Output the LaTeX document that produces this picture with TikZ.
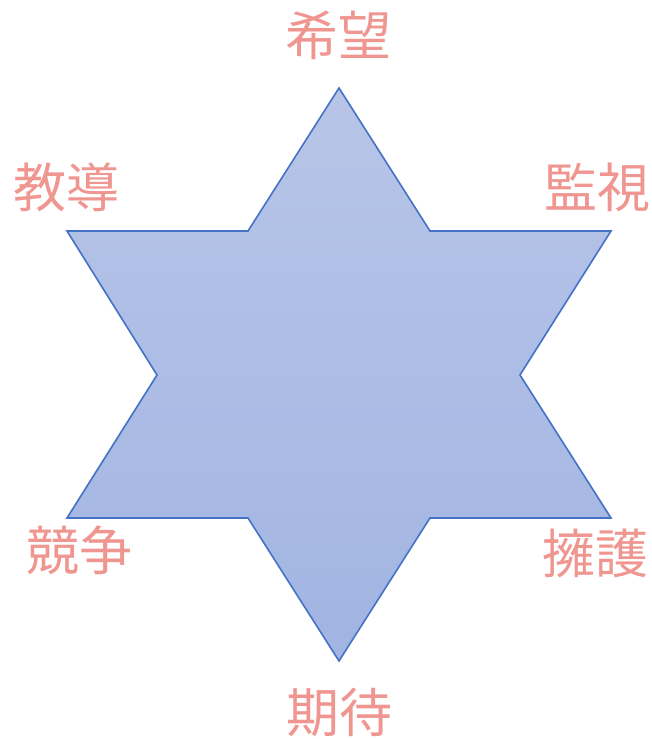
\documentclass[tikz,border=0pt]{standalone}
\usepackage{fontspec}
\newfontfamily\jpfont{Noto Sans CJK JP}
\usepackage{tikz}
\usetikzlibrary{positioning, calc}

\definecolor{starline}{RGB}{68,114,196}
\definecolor{startop}{RGB}{184,197,232}
\definecolor{starbottom}{RGB}{161,180,226}
\definecolor{wordcolor}{RGB}{240,150,145}

\tikzset{
    word/.style={text=wordcolor, inner sep=0pt, font=\jpfont\fontsize{53}{60}\selectfont},
    star/.style={draw=starline, line width=1.6pt, line join=miter,
        top color=startop, bottom color=starbottom}
}

\begin{document}
\begin{tikzpicture}[x=1pt, y=1pt]
    \useasboundingbox (0,0) rectangle (652,739);

    % outer tips and inner corners
    \coordinate (T)  at (339,651);
    \coordinate (UL) at (248,508);
    \coordinate (LT) at (67,508);
    \coordinate (ML) at (157,364);
    \coordinate (BLT) at (67,221);
    \coordinate (BL) at (248,221);
    \coordinate (B)  at (339,78);
    \coordinate (BR) at (430,221);
    \coordinate (BRT) at (611,221);
    \coordinate (MR) at (520,364);
    \coordinate (RT) at (611,508);
    \coordinate (UR) at (430,508);

    % star
    \draw[star] (T) -- (UL) -- (LT) -- (ML) -- (BLT) -- (BL) -- (B)
        -- (BR) -- (BRT) -- (MR) -- (RT) -- (UR) -- cycle;

    % words
    \foreach \name/\pos/\txt in {
        hope/{338,704}/希望,
        teach/{66,552}/教導,
        watch/{597,552}/監視,
        compete/{80,189}/競争,
        defend/{595,186}/擁護,
        expect/{339,26}/期待}
    {
        \node[word] (\name) at (\pos) {\txt};
    }
\end{tikzpicture}
\end{document}
